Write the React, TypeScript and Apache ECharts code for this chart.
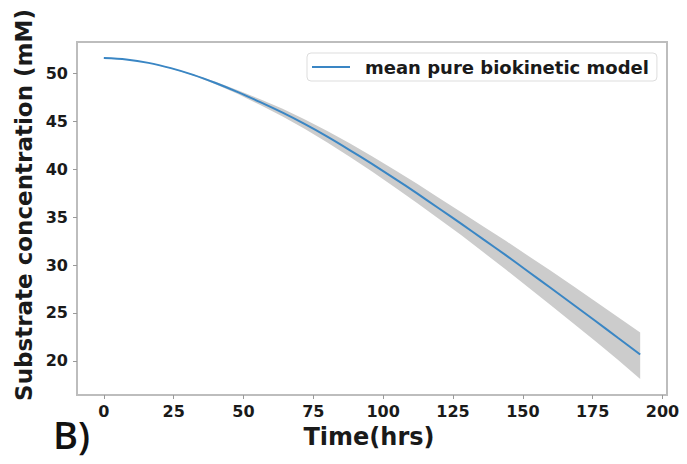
import React, { useEffect, useRef } from "react";
import * as echarts from "echarts";

// Simulation time points (hours)
const times = [0, 8, 16, 24, 32, 40, 48, 56, 64, 72, 80, 88, 96, 104, 112, 120, 128, 136, 144, 152, 160, 168, 176, 184, 192];

// Mean substrate concentration (mM)
const meanConc = [51.6, 51.45, 51.1, 50.55, 49.85, 49.0, 48.05, 47.0, 45.9, 44.7, 43.4, 42.0, 40.55, 39.05, 37.5, 35.9, 34.3, 32.65, 31.0, 29.3, 27.6, 25.88, 24.15, 22.4, 20.65];

// Uncertainty envelope (mM)
const upperConc = [51.6, 51.45, 51.12, 50.58, 49.92, 49.12, 48.25, 47.3, 46.3, 45.2, 44.0, 42.7, 41.35, 39.95, 38.5, 37.0, 35.5, 34.0, 32.5, 30.95, 29.4, 27.8, 26.2, 24.58, 22.95];
const lowerConc = [51.6, 51.45, 51.08, 50.52, 49.78, 48.88, 47.85, 46.7, 45.5, 44.2, 42.8, 41.3, 39.75, 38.15, 36.5, 34.8, 33.1, 31.3, 29.5, 27.65, 25.8, 23.93, 22.05, 20.1, 18.1];

const xTickValues = [0, 25, 50, 75, 100, 125, 150, 175, 200];
const yTickValues = [20, 25, 30, 35, 40, 45, 50];

const seriesName = "mean pure biokinetic model";

export default function App() {
  const ref = useRef<HTMLDivElement>(null);

  useEffect(() => {
    if (!ref.current) return;
    const chart = echarts.init(ref.current, null, { renderer: "svg" });

    const meanData = times.map((t, i) => [t, meanConc[i]]);

    const tickFont = {
      fontFamily: "DejaVu Sans",
      fontWeight: "bold" as const,
      fontSize: 16,
      color: "#1a1a1a",
    };

    chart.setOption({
      animation: false,
      backgroundColor: "#ffffff",
      grid: {
        left: 77,
        right: 20,
        top: 42,
        bottom: 69,
        show: true,
        borderColor: "#bdbdbd",
        borderWidth: 2,
        backgroundColor: "transparent",
      },
      legend: {
        data: [seriesName],
        left: 307,
        top: 53,
        icon: "rect",
        itemWidth: 38,
        itemHeight: 2,
        padding: [5, 8, 5, 5],
        borderColor: "#dddddd",
        borderWidth: 1,
        borderRadius: 4,
        backgroundColor: "#ffffff",
        textStyle: {
          fontFamily: "DejaVu Sans",
          fontWeight: "bold",
          fontSize: 18,
          color: "#1a1a1a",
          padding: [0, 0, 0, 10],
        },
      },
      xAxis: {
        type: "value",
        min: -9.6,
        max: 201.6,
        axisLine: { show: false, onZero: false },
        splitLine: { show: false },
        axisTick: {
          show: true,
          length: 4,
          lineStyle: { color: "#999999" },
          customValues: xTickValues,
        },
        axisLabel: {
          ...tickFont,
          margin: 8,
          customValues: xTickValues,
        },
      },
      yAxis: {
        type: "value",
        min: 16.43,
        max: 53.28,
        axisLine: { show: false, onZero: false },
        splitLine: { show: false },
        axisTick: {
          show: true,
          length: 4,
          lineStyle: { color: "#999999" },
          customValues: yTickValues,
        },
        axisLabel: {
          ...tickFont,
          margin: 9,
          customValues: yTickValues,
        },
      },
      graphic: [
        {
          type: "text",
          x: 24,
          y: 205,
          rotation: Math.PI / 2,
          style: {
            text: "Substrate concentration (mM)",
            fontFamily: "DejaVu Sans",
            fontWeight: "bold",
            fontSize: 23,
            fill: "#1a1a1a",
            align: "center",
            verticalAlign: "middle",
          },
        },
        {
          type: "text",
          x: 369,
          y: 437,
          style: {
            text: "Time(hrs)",
            fontFamily: "DejaVu Sans",
            fontWeight: "bold",
            fontSize: 24,
            fill: "#1a1a1a",
            align: "center",
            verticalAlign: "middle",
          },
        },
        {
          type: "text",
          x: 53,
          y: 434,
          style: {
            text: "B)",
            fontFamily: "Open Sans",
            fontWeight: 600,
            fontSize: 38,
            fill: "#111111",
            align: "left",
            verticalAlign: "middle",
          },
        },
      ],
      series: [
        {
          // Shaded envelope between the lower and upper bounds
          name: "envelope",
          type: "custom",
          silent: true,
          data: [[times[0], meanConc[0]]],
          renderItem: (_params: any, api: any) => {
            const upperPts = times.map((t, i) => api.coord([t, upperConc[i]]));
            const lowerPts = times
              .map((t, i) => api.coord([t, lowerConc[i]]))
              .reverse();
            return {
              type: "polygon",
              shape: { points: upperPts.concat(lowerPts) },
              style: { fill: "#cccccc", stroke: "none" },
            };
          },
          z: 1,
        },
        {
          name: seriesName,
          type: "line",
          data: meanData,
          symbol: "none",
          smooth: 0.3,
          lineStyle: { color: "#3a86c4", width: 2 },
          itemStyle: { color: "#3a86c4" },
          z: 3,
        },
      ],
    });

    return () => chart.dispose();
  }, []);

  return <div ref={ref} style={{ width: 687, height: 464, position: "absolute", left: 0, top: 0 }} />;
}
